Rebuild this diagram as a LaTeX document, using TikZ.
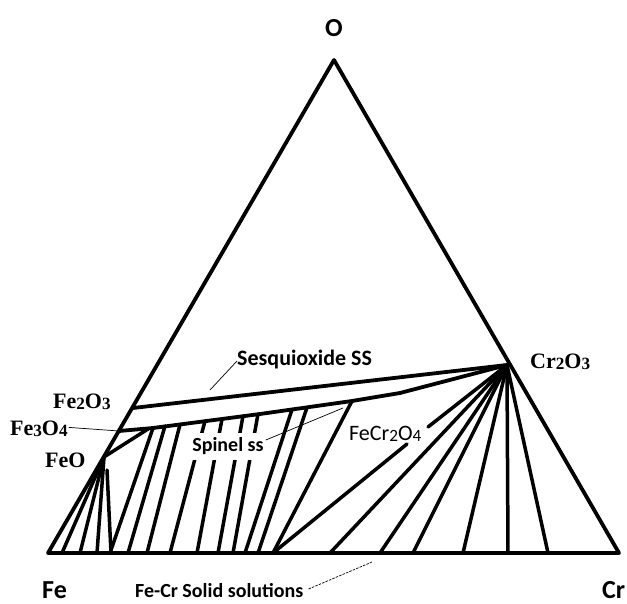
\documentclass[tikz,border=0pt]{standalone}
\usepackage{fontspec}
\setmainfont{Liberation Serif}
\newfontfamily\calfont{Carlito}
\newcommand{\sbd}[1]{\raisebox{-0.12ex}{\scalebox{0.78}{#1}}}
\begin{document}
\begin{tikzpicture}[x=1pt,y=-1pt,
  edge/.style={line width=3.8pt,line cap=round,line join=round},
  tie/.style={line width=3.5pt,line cap=round},
  leader/.style={line width=0.7pt},
  bigsans/.style={font=\calfont\bfseries\fontsize{26}{26}\selectfont,inner sep=0pt},
  sanslab/.style={font=\calfont\bfseries\fontsize{20}{20}\selectfont,inner sep=0pt},
  seslab/.style={font=\calfont\bfseries\fontsize{22}{22}\selectfont,inner sep=0pt},
  sansreg/.style={font=\calfont\fontsize{22}{22}\selectfont,inner sep=0pt},
  serlab/.style={font=\bfseries\fontsize{22}{22}\selectfont,inner sep=0pt}]
\useasboundingbox[fill=white] (0,0) rectangle (627,604);
% vertices and phase points
\coordinate (O) at (334,60);
\coordinate (Fe) at (48,553);
\coordinate (Cr) at (619,553);
\coordinate (CrO) at (507,365);
\coordinate (FeIII) at (133,408);
\coordinate (FeM) at (119,431);
\coordinate (FeO) at (104,457);
% spinel line points
\coordinate (s1) at (153,428);
\coordinate (s2) at (260,414);
\coordinate (s3) at (352,401);
\coordinate (s4) at (400,393);
% spinel tie line ends
\foreach \n/\tx/\ty/\bx in {1/153/428/110, 2/165/426/128, 3/180/424.5/147, 4/205/421/170, 5/222/419/197, 6/243/416/218, 7/258/414/233, 8/292/409.5/245, 9/307/407.5/258, 10/352/401/273}{
  \coordinate (t\n) at (\tx,\ty);
  \coordinate (b\n) at (\bx,553);
}
% spinel tie lines
\foreach \n in {1,...,10}{ \draw[tie] (t\n) -- (b\n); }
% mask behind Spinel ss
\node[fill=white,minimum width=84pt,minimum height=27pt,inner sep=0pt] (mask) at (228,446.5) {};
\node[sanslab] (spl) at (228,446) {Spinel ss};
% FeO fan
\foreach \n/\bx in {1/62, 2/80, 3/97}{
  \coordinate (f\n) at (\bx,553);
  \draw[tie] (FeO) -- (f\n);
}
\coordinate (fv1) at (107,470);
\coordinate (fv2) at (111,553);
\draw[tie] (fv1) -- (fv2);
\coordinate (fs) at (148,429);
\draw[tie] (FeO) -- (fs);
% Cr2O3 fan
\coordinate (g1) at (428,427);
\coordinate (g2) at (407,444);
\coordinate (c0) at (273,553);
\draw[tie] (CrO) -- (g1);
\draw[tie] (g2) -- (c0);
\foreach \n/\bx in {1/330, 2/380, 3/413, 4/463, 5/508, 6/548}{
  \coordinate (c\n) at (\bx,553);
  \draw[tie] (CrO) -- (c\n);
}
% sesquioxide and spinel boundaries
\draw[edge] (FeIII) -- (CrO);
\draw[edge] (FeM) -- (s1) -- (s2) -- (s3) -- (s4) -- (CrO);
% triangle
\draw[edge] (O) -- (Fe) -- (Cr) -- cycle;
% labels
\node[bigsans] (lO) at (334,28) {O};
\node[bigsans,anchor=base west] (lFe) at (42,598) {Fe};
\node[bigsans,anchor=base west] (lCr) at (602,598) {Cr};
\node[serlab,anchor=base west] (lFe2O3) at (53,408) {Fe\sbd{2}O\sbd{3}};
\node[serlab,anchor=base west] (lFe3O4) at (10,435) {Fe\sbd{3}O\sbd{4}};
\node[serlab,anchor=base west] (lFeO) at (45,467) {FeO};
\node[serlab,anchor=base west] (lCr2O3) at (530,368) {Cr\sbd{2}O\sbd{3}};
\node[sansreg,anchor=base west] (lFeCr) at (349,440) {FeCr\sbd{2}O\sbd{4}};
\node[seslab,anchor=base west] (lSes) at (237,366) {Sesquioxide SS};
\node[sanslab,anchor=base west] (lSol) at (135,597) {Fe-Cr Solid solutions};
% leaders
\coordinate (ls) at (210,390);
\draw[leader] (lSes.west) ++(0,1) -- (ls);
\coordinate (lsp) at (343,408);
\draw[leader] (spl.east) ++(2,-6) -- (lsp);
\draw[leader] (lFe3O4.east) ++(1,-1) -- (FeM);
\coordinate (lso) at (372,562);
\draw[leader,dash pattern=on 2.5pt off 1.2pt] (lSol.east) ++(5,-1) -- (lso);
\end{tikzpicture}
\end{document}
